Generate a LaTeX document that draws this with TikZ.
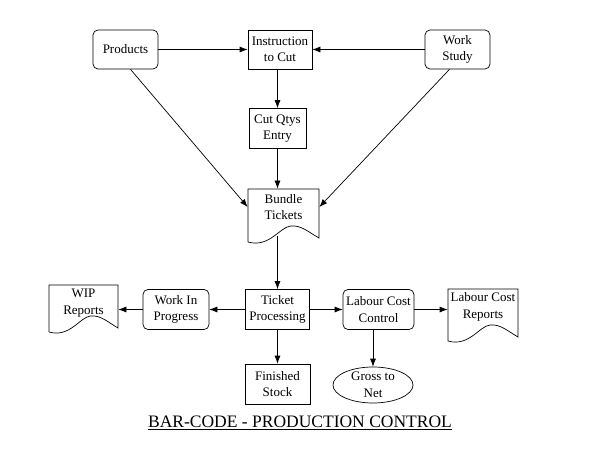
\documentclass[tikz,border=0pt]{standalone}
\usepackage{fontspec}
\setmainfont{Liberation Serif}
\usetikzlibrary{arrows.meta,shapes.geometric}
\newcommand\docshape[4]{%
  \pgfmathsetmacro\mydocw{#3-#1}%
  \draw[line width=0.7pt] (#1,#4) -- (#1,#2) -- (#3,#2) -- (#3,#4-4)
    .. controls ({#3-0.15*\mydocw},{#4-10}) and ({#1+0.75*\mydocw},{#4-17}) .. ({#1+0.6*\mydocw},{#4-16})
    .. controls ({#1+0.45*\mydocw},{#4-15}) and ({#1+0.3*\mydocw},{#4+6}) .. (#1,#4);}
\begin{document}
\begin{tikzpicture}[x=1pt,y=-1pt,
  box/.style={line width=0.7pt,align=center,inner sep=0pt,font=\fontsize{13}{16.5}\selectfont},
  proc/.style={box,draw},
  rproc/.style={box,draw,rounded corners=5pt},
  docbox/.style={box,draw=none},
  oval/.style={box,draw,ellipse},
  arr/.style={-{Latex[length=8pt,width=6pt]},line width=0.7pt}]
\useasboundingbox (0,0) rectangle (600,449);
\node[rproc,minimum width=65,minimum height=39] (products) at (125.5,49.5) {Products};
\node[proc,minimum width=64,minimum height=39] (instr) at (280,49.5) {Instruction\\to Cut};
\node[rproc,minimum width=65,minimum height=39] (workstudy) at (457.5,49.5) {Work\\Study};
\node[proc,minimum width=57,minimum height=40] (cutqty) at (277.5,128.5) {Cut Qtys\\Entry};
\node[docbox,minimum width=71,minimum height=36] (bundle) at (283.5,207) {Bundle\\Tickets};
\docshape{248}{189}{319}{242}
\coordinate (bundlebot) at (277.5,236);
\node[proc,minimum width=64,minimum height=40] (ticket) at (277.5,309.5) {Ticket\\Processing};
\node[rproc,minimum width=71,minimum height=40] (lcc) at (378.5,309.5) {Labour Cost\\Control};
\node[docbox,minimum width=70,minimum height=36] (lcr) at (483,307) {Labour Cost\\Reports};
\docshape{448}{289}{518}{341}
\node[rproc,minimum width=66,minimum height=40] (wip) at (176,309.5) {Work In\\Progress};
\node[docbox,minimum width=69,minimum height=36] (wipr) at (83.5,303) {WIP\\Reports};
\docshape{49}{285}{118}{332}
\node[proc,minimum width=65,minimum height=40] (finished) at (277.5,384) {Finished\\Stock};
\node[oval,minimum width=80,minimum height=36] (gross) at (373,385) {Gross to\\Net};
\node[font=\fontsize{17.5}{20}\selectfont] (title) at (300,423) {\underline{BAR-CODE - PRODUCTION CONTROL}};
\draw[arr] (products) -- (instr);
\draw[arr] (workstudy) -- (instr);
\draw[arr] (instr.south -| cutqty) -- (cutqty.north);
\draw[arr] (cutqty) -- (cutqty |- bundle.north);
\draw[arr] ([xshift=5pt]products.south) -- (bundle.west);
\draw[arr] ([xshift=-8pt]workstudy.south) -- (bundle.east);
\draw[arr] (bundlebot) -- (ticket.north);
\draw[arr] (ticket) -- (wip);
\draw[arr] (wip) -- (wipr.east |- wip);
\draw[arr] (ticket) -- (lcc);
\draw[arr] (lcc) -- (lcr.west |- lcc);
\draw[arr] (ticket) -- (finished);
\draw[arr] (lcc.south -| gross) -- (gross.north);
\end{tikzpicture}
\end{document}
